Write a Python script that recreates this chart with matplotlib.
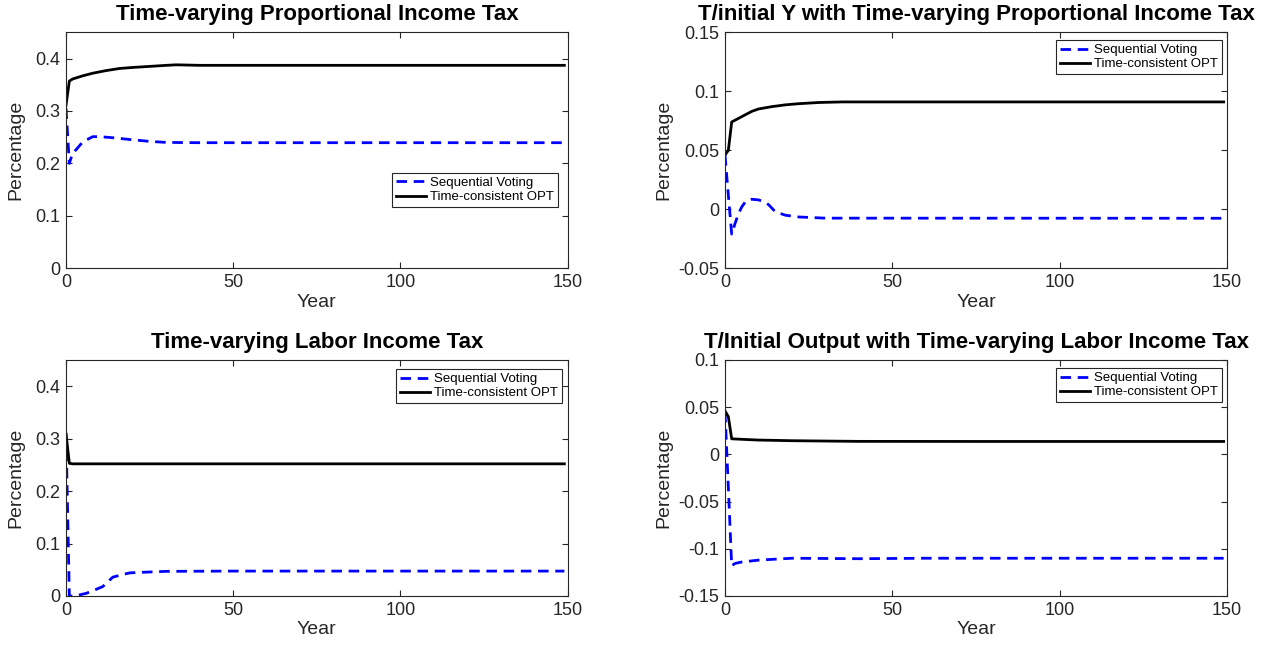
import numpy as np
import matplotlib.pyplot as plt

plt.rcParams['font.family'] = ['Liberation Sans', 'DejaVu Sans']

# panel 1: time-varying proportional income tax (rate)
p1_opt_years = [0, 1, 2, 3, 5, 8, 12, 16, 20, 25, 30, 33, 40, 60, 100, 149]
p1_opt_vals = [0.311, 0.357, 0.361, 0.363, 0.367, 0.372, 0.377, 0.381, 0.383,
               0.385, 0.387, 0.388, 0.387, 0.387, 0.387, 0.387]
p1_seq_years = [0, 1, 2, 3, 5, 8, 10, 14, 20, 25, 30, 40, 149]
p1_seq_vals = [0.305, 0.200, 0.220, 0.226, 0.241, 0.251, 0.251, 0.249, 0.245,
               0.242, 0.240, 0.2395, 0.2395]

# panel 2: T / initial Y, proportional income tax
p2_opt_years = [0, 1, 2, 4, 6, 8, 10, 14, 18, 22, 28, 35, 149]
p2_opt_vals = [0.046, 0.050, 0.074, 0.077, 0.080, 0.083, 0.085, 0.087, 0.0885,
               0.0895, 0.0905, 0.091, 0.091]
p2_seq_years = [0, 1, 2, 3, 4, 5, 6, 7, 8, 10, 12, 13, 15, 18, 22, 30, 149]
p2_seq_vals = [0.046, 0.012, -0.021, -0.012, -0.004, 0.002, 0.006, 0.008, 0.0085,
               0.008, 0.006, 0.004, -0.002, -0.005, -0.0065, -0.0075, -0.0076]

# panel 3: time-varying labor income tax (rate)
p3_opt_years = [0, 1, 2, 20, 60, 149]
p3_opt_vals = [0.309, 0.253, 0.252, 0.252, 0.252, 0.252]
p3_seq_years = [0, 1, 2, 4, 6, 8, 11, 14, 17, 19, 22, 30, 50, 149]
p3_seq_vals = [0.310, 0.0, 0.0, 0.002, 0.005, 0.010, 0.018, 0.036, 0.041, 0.044,
               0.045, 0.047, 0.0475, 0.0475]

# panel 4: T / initial output, labor income tax
p4_opt_years = [0, 1, 2, 5, 10, 20, 40, 80, 149]
p4_opt_vals = [0.046, 0.040, 0.0165, 0.0160, 0.0152, 0.0145, 0.0138, 0.0137, 0.0137]
p4_seq_years = [0, 1, 2, 3, 5, 10, 20, 40, 60, 149]
p4_seq_vals = [0.045, -0.035, -0.118, -0.1155, -0.114, -0.112, -0.110, -0.1105,
               -0.110, -0.110]

titles = ['Time-varying Proportional Income Tax',
          'T/initial Y with Time-varying Proportional Income Tax',
          'Time-varying Labor Income Tax',
          'T/Initial Output with Time-varying Labor Income Tax']
ylims = [(0, 0.45), (-0.05, 0.15), (0, 0.45), (-0.15, 0.1)]
yticks = [[0, 0.1, 0.2, 0.3, 0.4],
          [-0.05, 0, 0.05, 0.1, 0.15],
          [0, 0.1, 0.2, 0.3, 0.4],
          [-0.15, -0.1, -0.05, 0, 0.05, 0.1]]
xticks = [0, 50, 100, 150]

series = [(p1_seq_years, p1_seq_vals, p1_opt_years, p1_opt_vals),
          (p2_seq_years, p2_seq_vals, p2_opt_years, p2_opt_vals),
          (p3_seq_years, p3_seq_vals, p3_opt_years, p3_opt_vals),
          (p4_seq_years, p4_seq_vals, p4_opt_years, p4_opt_vals)]

W, H = 1275, 648
# axes boxes in pixels: left, top, right, bottom
boxes = [(66, 32.3, 567.7, 268.3), (725, 32.3, 1227, 268.3),
         (66, 360, 567.7, 596), (725, 360, 1227, 596)]
legend_anchor = [(0.981, 0.405), (0.990, 0.967), (0.988, 0.962), (0.990, 0.966)]
ylabel_x = [-0.082, -0.104, -0.082, -0.104]

fig = plt.figure(figsize=(W / 100, H / 100), dpi=100)
axc = '0.15'

for i in range(4):
    l, t, r, b = boxes[i]
    ax = fig.add_axes([l / W, 1 - b / H, (r - l) / W, (b - t) / H])
    sy, sv, oy, ov = series[i]
    ax.plot(sy, sv, color='blue', lw=2, linestyle=(0, (3.8, 2.4)),
            label='Sequential Voting')
    ax.plot(oy, ov, color='black', lw=2, label='Time-consistent OPT')
    ax.set_xlim(0, 150)
    ax.set_ylim(*ylims[i])
    ax.set_xticks(xticks)
    ax.set_xticklabels([f'{v:g}' for v in xticks])
    ax.set_yticks(yticks[i])
    ax.set_yticklabels([f'{v:g}' for v in yticks[i]])
    ax.tick_params(direction='in', length=4, width=0.8, colors=axc,
                   labelcolor='#262626', labelsize=13, top=True, right=True, pad=4)
    for s in ax.spines.values():
        s.set_color(axc)
        s.set_linewidth(0.8)
    ax.set_title(titles[i], fontsize=16, fontweight='bold', pad=8.5)
    ax.set_xlabel('Year', fontsize=14, color='#262626', labelpad=2)
    ax.set_ylabel('Percentage', fontsize=14, color='#262626')
    ax.yaxis.set_label_coords(ylabel_x[i], 0.5)
    leg = ax.legend(loc='upper right', bbox_to_anchor=legend_anchor[i],
                    borderaxespad=0, fontsize=9.5, fancybox=False, framealpha=1,
                    edgecolor='#262626', handlelength=2.3, handletextpad=0.3,
                    labelspacing=0.15, borderpad=0.3)
    leg.get_frame().set_linewidth(0.8)

fig.savefig('out.png', dpi=100)
